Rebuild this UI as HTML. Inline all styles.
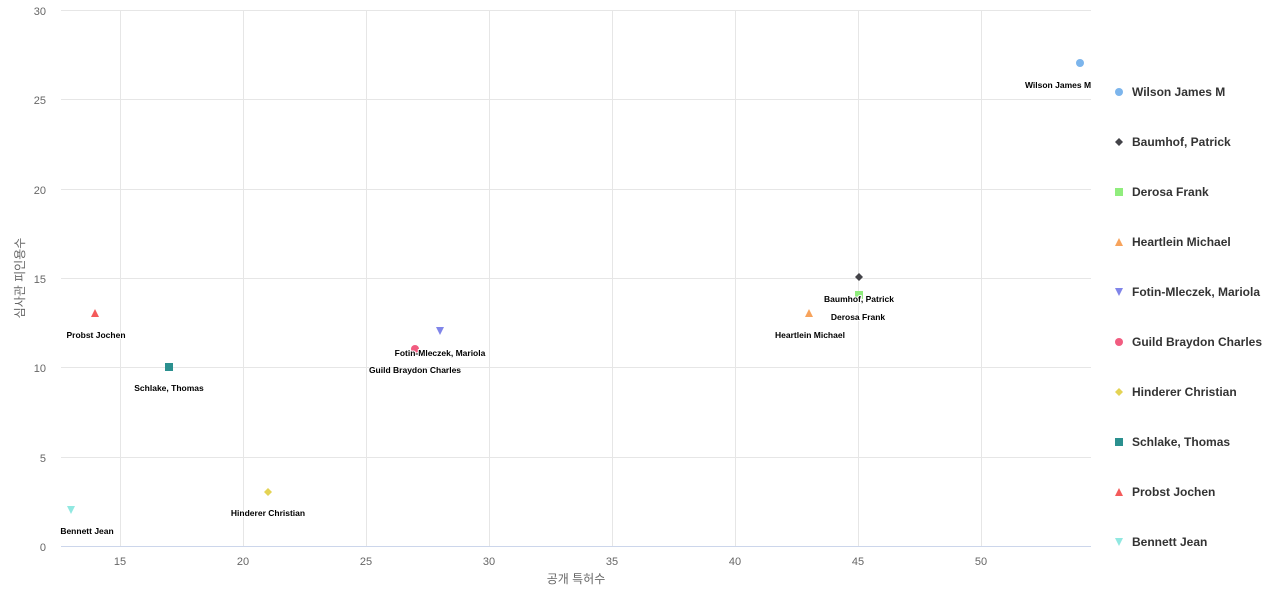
<!DOCTYPE html>
<html><head><meta charset="utf-8"><style>body{margin:0;background:#fff}svg{display:block}</style></head>
<body>
<svg width="1280" height="600" xmlns="http://www.w3.org/2000/svg" font-family="Liberation Sans, Noto Sans CJK KR, sans-serif">
<g stroke="#e6e6e6" stroke-width="1">
<line x1="61" x2="1091" y1="10.5" y2="10.5"/><line x1="61" x2="1091" y1="99.5" y2="99.5"/><line x1="61" x2="1091" y1="189.5" y2="189.5"/><line x1="61" x2="1091" y1="278.5" y2="278.5"/><line x1="61" x2="1091" y1="367.5" y2="367.5"/><line x1="61" x2="1091" y1="457.5" y2="457.5"/>
<line x1="120.5" x2="120.5" y1="10" y2="546"/><line x1="243.5" x2="243.5" y1="10" y2="546"/><line x1="366.5" x2="366.5" y1="10" y2="546"/><line x1="489.5" x2="489.5" y1="10" y2="546"/><line x1="612.5" x2="612.5" y1="10" y2="546"/><line x1="735.5" x2="735.5" y1="10" y2="546"/><line x1="858.5" x2="858.5" y1="10" y2="546"/><line x1="981.5" x2="981.5" y1="10" y2="546"/>
</g>
<line x1="61" x2="1091" y1="546.5" y2="546.5" stroke="#ccd6eb"/>
<g font-size="11" fill="#666" text-anchor="end">
<text x="46" y="15">30</text><text x="46" y="104">25</text><text x="46" y="194">20</text><text x="46" y="283">15</text><text x="46" y="372">10</text><text x="46" y="462">5</text><text x="46" y="551">0</text>
</g>
<g font-size="11" fill="#666" text-anchor="middle">
<text x="120" y="565">15</text><text x="243" y="565">20</text><text x="366" y="565">25</text><text x="489" y="565">30</text><text x="612" y="565">35</text><text x="735" y="565">40</text><text x="858" y="565">45</text><text x="981" y="565">50</text>
<text x="576" y="583" font-size="12">공개 특허수</text>
</g>
<text transform="translate(24,278) rotate(-90)" text-anchor="middle" font-size="12" fill="#666">심사관 피인용수</text>
<!-- markers -->
<circle cx="1080" cy="63" r="4" fill="#7cb5ec"/>
<path d="M859 273 L863 277 L859 281 L855 277Z" fill="#434348"/>
<rect x="855" y="291" width="8" height="8" fill="#90ed7d"/>
<path d="M809 309 L813 317 L805 317Z" fill="#f7a35c"/>
<path d="M436 327 L444 327 L440 335Z" fill="#8085e9"/>
<circle cx="415" cy="349" r="4" fill="#f15c80"/>
<path d="M268 488 L272 492 L268 496 L264 492Z" fill="#e4d354"/>
<rect x="165" y="363" width="8" height="8" fill="#2b908f"/>
<path d="M95 309 L99 317 L91 317Z" fill="#f45b5b"/>
<path d="M67 506 L75 506 L71 514Z" fill="#91e8e1"/>
<g font-size="8.5" font-weight="bold" fill="#000" text-anchor="middle" stroke="#fff" stroke-width="2" paint-order="stroke">
<text x="1058" y="88">Wilson James M</text>
<text x="859" y="302">Baumhof, Patrick</text>
<text x="858" y="320">Derosa Frank</text>
<text x="810" y="338">Heartlein Michael</text>
<text x="440" y="356">Fotin-Mleczek, Mariola</text>
<text x="415" y="373">Guild Braydon Charles</text>
<text x="268" y="516">Hinderer Christian</text>
<text x="169" y="391">Schlake, Thomas</text>
<text x="96" y="338">Probst Jochen</text>
<text x="87" y="534">Bennett Jean</text>
</g>
<!-- legend -->
<circle cx="1119" cy="92" r="4" fill="#7cb5ec"/>
<path d="M1119 138 L1123 142 L1119 146 L1115 142Z" fill="#434348"/>
<rect x="1115" y="188" width="8" height="8" fill="#90ed7d"/>
<path d="M1119 238 L1123 246 L1115 246Z" fill="#f7a35c"/>
<path d="M1115 288 L1123 288 L1119 296Z" fill="#8085e9"/>
<circle cx="1119" cy="342" r="4" fill="#f15c80"/>
<path d="M1119 388 L1123 392 L1119 396 L1115 392Z" fill="#e4d354"/>
<rect x="1115" y="438" width="8" height="8" fill="#2b908f"/>
<path d="M1119 488 L1123 496 L1115 496Z" fill="#f45b5b"/>
<path d="M1115 538 L1123 538 L1119 546Z" fill="#91e8e1"/>
<g font-size="12" font-weight="bold" fill="#333">
<text x="1132" y="96">Wilson James M</text>
<text x="1132" y="146">Baumhof, Patrick</text>
<text x="1132" y="196">Derosa Frank</text>
<text x="1132" y="246">Heartlein Michael</text>
<text x="1132" y="296">Fotin-Mleczek, Mariola</text>
<text x="1132" y="346">Guild Braydon Charles</text>
<text x="1132" y="396">Hinderer Christian</text>
<text x="1132" y="446">Schlake, Thomas</text>
<text x="1132" y="496">Probst Jochen</text>
<text x="1132" y="546">Bennett Jean</text>
</g>
</svg>
</body></html>
